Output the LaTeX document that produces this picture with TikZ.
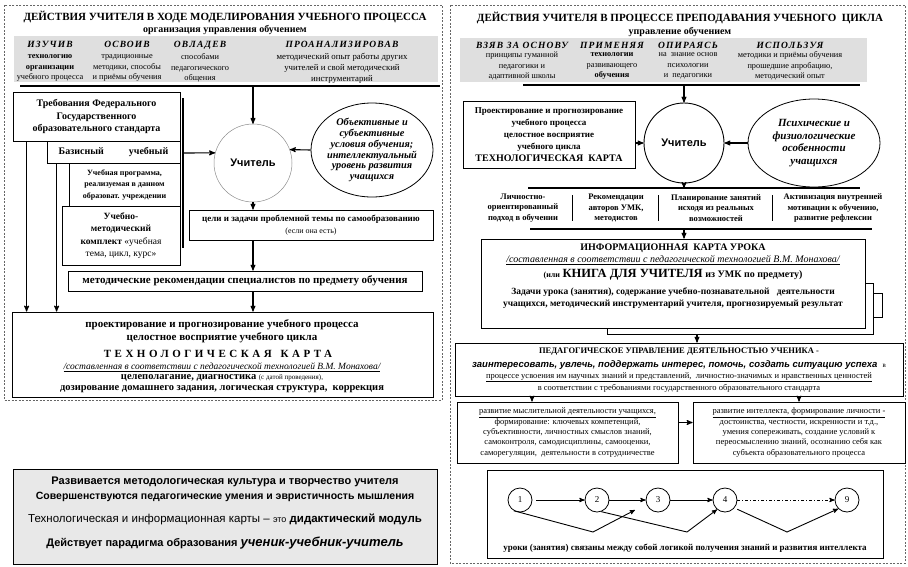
\documentclass[tikz,border=0pt]{standalone}
\usepackage{fontspec}
\setmainfont{Liberation Serif}
\newfontfamily\arialfont{Liberation Sans}
\usetikzlibrary{arrows,shapes.geometric,positioning}

\newcommand{\fs}[2]{\fontsize{#1}{#2}\selectfont}
\newcommand{\razr}[2]{{\addfontfeatures{LetterSpace=#1}#2}}

\begin{document}
\begin{tikzpicture}[x=1pt,y=-1pt,>=stealth',thick]
  \tikzstyle{frame}=[draw=black!60,dash pattern=on 2pt off 1.5pt,line width=0.6pt]
  \tikzstyle{box}=[draw=black,line width=0.8pt,fill=white,inner sep=1pt,align=center]
  \tikzstyle{bar}=[line width=1.6pt]
  \tikzstyle{kop}=[font=\bfseries\itshape\fs{9.5}{10},inner sep=0pt,anchor=base]
  \tikzstyle{col}=[font=\fs{8.3}{10.8},align=center,inner sep=0pt]
  \tikzstyle{arr}=[->,line width=1.1pt]
  \tikzstyle{num}=[circle,draw,line width=0.8pt,minimum size=24pt,inner sep=0pt,fill=white,font=\fs{9}{10}]

  \useasboundingbox (0,0) rectangle (908,566);
  \fill[white] (0,0) rectangle (908,566);
  \draw[frame] (4,5) rectangle (442,400);
  \draw[frame] (450,5) rectangle (905,563);

  % left part
  \node[font=\bfseries\fs{11}{13}] (titleL) at (225,17) {ДЕЙСТВИЯ УЧИТЕЛЯ В ХОДЕ МОДЕЛИРОВАНИЯ УЧЕБНОГО ПРОЦЕССА};
  \node[font=\bfseries\fs{10}{12}] (subL) at (225,30) {организация управления обучением};
  \fill[gray!25] (14,36) rectangle (438,82);
  \node[kop] (h1) at (50,47) {\razr{12}{ИЗУЧИВ}};
  \node[kop] (h2) at (127,47) {\razr{12}{ОСВОИВ}};
  \node[kop] (h3) at (200,47) {\razr{12}{ОВЛАДЕВ}};
  \node[kop] (h4) at (342,47) {\razr{12}{ПРОАНАЛИЗИРОВАВ}};
  \node[col] (c1) at (50,68) {\textbf{технологию}\\\textbf{организации}\\учебного процесса};
  \node[col] (c2) at (127,68) {традиционные\\методики, способы\\и приёмы обучения};
  \node[col] (c3) at (200,68) {способами\\педагогического\\общения};
  \node[col,font=\fs{8.8}{10.8}] (c4) at (342,68) {методический опыт работы других\\учителей и свой методический\\инструментарий};
  \coordinate (barL1) at (20,86);
  \coordinate (barL2) at (440,86);
  \draw[bar] (barL1) -- (barL2);

  \node[box,minimum width=167pt,minimum height=49pt,font=\bfseries\fs{10}{12.5}] (treb) at (96.5,116.5) {Требования Федерального\\Государственного\\образовательного стандарта};
  \node[box,minimum width=133pt,minimum height=22pt,font=\bfseries\fs{10}{12}] (baz) at (113.5,152) {Базисный\hspace{2.5em}учебный};
  \node[box,minimum width=111pt,minimum height=43pt,font=\bfseries\fs{8}{11.5}] (prog) at (124.5,184.5) {Учебная программа,\\реализуемая в данном\\образоват. учреждении};
  \node[box,minimum width=118pt,minimum height=59pt,font=\fs{9.5}{12.5}] (umk) at (121,235.5) {\textbf{Учебно-}\\\textbf{методический}\\\textbf{комплект} «учебная\\тема, цикл, курс»};
  \coordinate (brT) at (183,98);
  \coordinate (brB) at (183,248);
  \coordinate (brM) at (183,153);
  \draw[bar,line width=1.4pt] (brT) -- (brB);

  \node[circle,draw=black!45,line width=0.5pt,minimum size=78pt,inner sep=0pt,font=\arialfont\bfseries\fs{11}{13}] (uch1) at (253,163) {Учитель};
  \draw[arr] (brM) -- (uch1.165);
  \draw[arr] (uch1.north |- barL1) -- (uch1.north);
  \node[ellipse,draw,line width=0.8pt,minimum width=122pt,minimum height=94pt] (ell1) at (372,150) {};
  \node[align=center,font=\bfseries\itshape\fs{10.3}{10.9}] (ell1t) at (ell1.center) {Объективные и\\субъективные\\условия обучения;\\интеллектуальный\\уровень развития\\учащихся};
  \draw[arr] (ell1.west) -- (uch1.20);

  \node[box,minimum width=244pt,minimum height=30pt] (celi) at (311,225) {{\bfseries\fs{9}{11}цели и задачи проблемной темы по самообразованию}\\{\fs{8}{10}(если она есть)}};
  \draw[arr] (uch1.south) -- (uch1.south |- celi.north);
  \node[box,minimum width=354pt,minimum height=20pt,font=\bfseries\fs{11}{13}] (metod) at (245,281) {методические рекомендации специалистов по предмету обучения};
  \draw[arr] (celi.south -| uch1) -- (metod.north -| uch1);
  \node[box,minimum width=421pt,minimum height=85pt] (tk) at (222.5,354.5) {};
  \draw[arr] (metod.south -| uch1) -- (tk.north -| uch1);
  \draw[arr] ([xshift=14pt]treb.south west) -- ([xshift=14pt]treb.south west |- tk.north);
  \draw[arr] ([xshift=10pt]baz.south west) -- ([xshift=10pt]baz.south west |- tk.north);
  \node[font=\bfseries\fs{11}{13}] (tk1) at (222,325) {проектирование и прогнозирование учебного процесса};
  \node[font=\bfseries\fs{11}{13}] (tk2) at (222,338) {целостное восприятие учебного цикла};
  \node[font=\bfseries\fs{11}{13}] (tk3) at (218,354) {\razr{32}{ТЕХНОЛОГИЧЕСКАЯ}\hspace{0.8em}\razr{32}{КАРТА}};
  \node[font=\itshape\fs{9.5}{11}] (tk4) at (222,367) {\underline{/составленная в соответствии с педагогической технологией В.М. Монахова/}};
  \node[font=\bfseries\fs{10.5}{12}] (tk5) at (222,378) {целеполагание, диагностика {\mdseries\fs{7}{8}(с датой проведения),}};
  \node[font=\bfseries\fs{10.5}{12}] (tk6) at (222,389) {дозирование домашнего задания, логическая структура,\ \ коррекция};

  \node[draw,line width=0.8pt,fill=gray!18,minimum width=424pt,minimum height=95pt] (itog) at (225,516.5) {};
  \node[font=\arialfont\bfseries\fs{11}{13}] (it1) at (225,482) {Развивается методологическая культура и творчество учителя};
  \node[font=\arialfont\bfseries\fs{10.5}{13}] (it2) at (225,497) {Совершенствуются педагогические умения и эвристичность мышления};
  \node[font=\arialfont\fs{11.5}{13}] (it3) at (225,519) {Технологическая и информационная карты – {\fs{9}{11}это} \textbf{дидактический модуль}};
  \node[font=\arialfont\bfseries\fs{11}{13}] (it4) at (225,543) {Действует парадигма образования {\itshape\fs{13}{15}ученик-учебник-учитель}};

  % right part
  \node[font=\bfseries\fs{11}{13}] (titleR) at (680,18) {ДЕЙСТВИЯ УЧИТЕЛЯ В ПРОЦЕССЕ ПРЕПОДАВАНИЯ УЧЕБНОГО\ \ ЦИКЛА};
  \node[font=\bfseries\fs{10}{12}] (subR) at (680,32) {управление обучением};
  \fill[gray!25] (460,38) rectangle (867,82);
  \node[kop] (g1) at (522,48) {\razr{12}{ВЗЯВ ЗА ОСНОВУ}};
  \node[kop] (g2) at (612,48) {\razr{12}{ПРИМЕНЯЯ}};
  \node[kop] (g3) at (688,48) {\razr{12}{ОПИРАЯСЬ}};
  \node[kop] (g4) at (790,48) {\razr{12}{ИСПОЛЬЗУЯ}};
  \node[col] (d1) at (522,66) {принципы гуманной\\педагогики и\\адаптивной школы};
  \node[col] (d2) at (612,66) {\textbf{технологии}\\развивающего\\\textbf{обучения}};
  \node[col] (d3) at (688,66) {на\ \ знание основ\\психологии\\и\ \ педагогики};
  \node[col] (d4) at (790,66) {методики и приёмы обучения\\прошедшие апробацию,\\методический опыт};
  \coordinate (barR1) at (523,85);
  \coordinate (barR2) at (860,85);
  \draw[bar] (barR1) -- (barR2);

  \node[circle,draw,line width=0.9pt,minimum size=80pt,inner sep=0pt,font=\arialfont\bfseries\fs{11}{13}] (uch2) at (684,143) {Учитель};
  \draw[arr] (uch2.north |- barR1) -- (uch2.north);
  \node[box,minimum width=172pt,minimum height=67pt,font=\bfseries\fs{9}{11.8}] (proj) at (549,134.5) {Проектирование и прогнозирование\\учебного процесса\\целостное восприятие\\учебного цикла\\{\fs{10}{11.8}ТЕХНОЛОГИЧЕСКАЯ\ \ КАРТА}};
  \draw[arr] (proj.east |- uch2) -- (uch2.west);
  \node[ellipse,draw,line width=0.8pt,minimum width=132pt,minimum height=88pt] (ell2) at (814,143) {};
  \node[align=center,font=\bfseries\itshape\fs{11}{12.5}] (ell2t) at (ell2.center) {Психические и\\физиологические\\особенности\\учащихся};
  \draw[arr] (ell2.west) -- (uch2.east);
  \coordinate (barR3a) at (528,188);
  \coordinate (barR3b) at (860,188);
  \draw[bar] (barR3a) -- (barR3b);
  \draw[arr] (uch2.south) -- (uch2.south |- barR3a);

  \node[col,font=\bfseries\fs{8.5}{10.5}] (p1) at (523,208) {Личностно-\\ориентированный\\подход в обучении};
  \node[col,font=\bfseries\fs{8.5}{10.5}] (p2) at (616,208) {Рекомендации\\авторов УМК,\\методистов};
  \node[col,font=\bfseries\fs{8.5}{10.5}] (p3) at (716,208) {Планирование занятий\\исходя из реальных\\возможностей};
  \node[col,font=\bfseries\fs{8.5}{10.5}] (p4) at (833,208) {Активизация внутренней\\мотивации к обучению,\\развитие рефлексии};
  \foreach \xs in {572,658,772}
    \draw[line width=0.6pt] (\xs,195) -- (\xs,221);
  \coordinate (barR4a) at (530,229);
  \coordinate (barR4b) at (872,229);
  \draw[bar] (barR4a) -- (barR4b);

  \node[box,minimum width=182pt,minimum height=24pt] (back3) at (791,305) {};
  \node[box,minimum width=266pt,minimum height=51pt] (back2) at (740,308.5) {};
  \node[box,minimum width=384pt,minimum height=89pt] (info) at (673,283.5) {};
  \draw[arr] (uch2 |- barR4a) -- (uch2 |- info.north);
  \node[font=\bfseries\fs{10}{12}] (in1) at (673,248) {ИНФОРМАЦИОННАЯ\ \ КАРТА УРОКА};
  \node[font=\itshape\fs{10}{12}] (in2) at (673,260) {\underline{/составленная в соответствии с педагогической технологией В.М. Монахова/}};
  \node[font=\bfseries\fs{10}{12}] (in3) at (673,275) {{\fs{8}{10}(или} {\fs{12.5}{14}КНИГА ДЛЯ УЧИТЕЛЯ} из УМК по предмету)};
  \node[font=\bfseries\fs{9.5}{12}] (in4) at (673,292) {Задачи урока (занятия), содержание учебно-познавательной\ \ \ деятельности};
  \node[font=\bfseries\fs{9.5}{12}] (in5) at (673,304) {учащихся, методический инструментарий учителя, прогнозируемый результат};

  \node[box,minimum width=448pt,minimum height=53pt] (ped) at (679,369.5) {};
  \draw[arr] ([xshift=18pt]ped.north |- back2.south) -- ([xshift=18pt]ped.north);
  \node[font=\bfseries\fs{8.5}{10}] (pe1) at (679,352) {ПЕДАГОГИЧЕСКОЕ УПРАВЛЕНИЕ ДЕЯТЕЛЬНОСТЬЮ УЧЕНИКА -};
  \node[font=\arialfont\bfseries\itshape\fs{9.5}{11}] (pe2) at (679,365) {заинтересовать, увлечь, поддержать интерес, помочь, создать ситуацию успеха\ \ {\rmfamily\mdseries\upshape\fs{7}{8}в}};
  \node[font=\fs{8.5}{10}] (pe3) at (679,377) {\underline{процессе усвоения им научных знаний и представлений,\ \ личностно-значимых и нравственных ценностей}};
  \node[font=\fs{8.5}{10}] (pe4) at (679,388) {в соответствии с требованиями государственного образовательного стандарта};

  \node[box,minimum width=221pt,minimum height=61pt,font=\fs{8.5}{10.3}] (lbox) at (567.5,432.5) {\underline{развитие мыслительной деятельности учащихся,}\\формирование: ключевых компетенций,\\субъективности, личностных смыслов знаний,\\самоконтроля, самодисциплины, самооценки,\\саморегуляции,\ \ деятельности в сотрудничестве};
  \node[box,minimum width=212pt,minimum height=61pt,font=\fs{8.5}{10.3}] (rbox) at (799,432.5) {\underline{развитие интеллекта, формирование личности -}\\достоинства, честности, искренности и т.д.,\\умения сопереживать, создание условий к\\переосмыслению знаний, осознанию себя как\\субъекта образовательного процесса};
  \draw[arr] ([xshift=-35.5pt]lbox.north |- ped.south) -- ([xshift=-35.5pt]lbox.north);
  \draw[arr] (rbox.north |- ped.south) -- (rbox.north);
  \draw[arr] ([yshift=10pt]lbox.east) -- ([yshift=10pt]lbox.east -| rbox.west);

  \node[box,minimum width=396pt,minimum height=88pt] (chain) at (685,514) {};
  \node[num] (n1) at (520,500) {1};
  \node[num] (n2) at (597,500) {2};
  \node[num] (n3) at (658,500) {3};
  \node[num] (n4) at (725,500) {4};
  \node[num] (n9) at (847,500) {9};
  \draw[arr,line width=0.9pt,shorten <=4pt] (n1) -- (n2);
  \draw[arr,line width=0.9pt] (n2) -- (n3);
  \draw[arr,line width=0.9pt] (n3) -- (n4);
  \draw[arr,line width=0.9pt,dash pattern=on 3pt off 2pt on 1pt off 2pt] (n4) -- (n9);
  \coordinate (v1a) at (593,532);
  \coordinate (v1b) at (635,510);
  \coordinate (v2a) at (687,532);
  \coordinate (v3a) at (787,532);
  \draw[arr,line width=0.9pt] (n1.240) -- (v1a) -- (v1b);
  \draw[arr,line width=0.9pt] (n2.290) -- (v2a) -- (n4.230);
  \draw[arr,line width=0.9pt,shorten <=3pt] (n4.320) -- (v3a) -- (n9.225);
  \node[font=\bfseries\fs{9}{11}] (chaint) at (685,548) {уроки (занятия) связаны между собой логикой получения знаний и развития интеллекта};
\end{tikzpicture}
\end{document}
